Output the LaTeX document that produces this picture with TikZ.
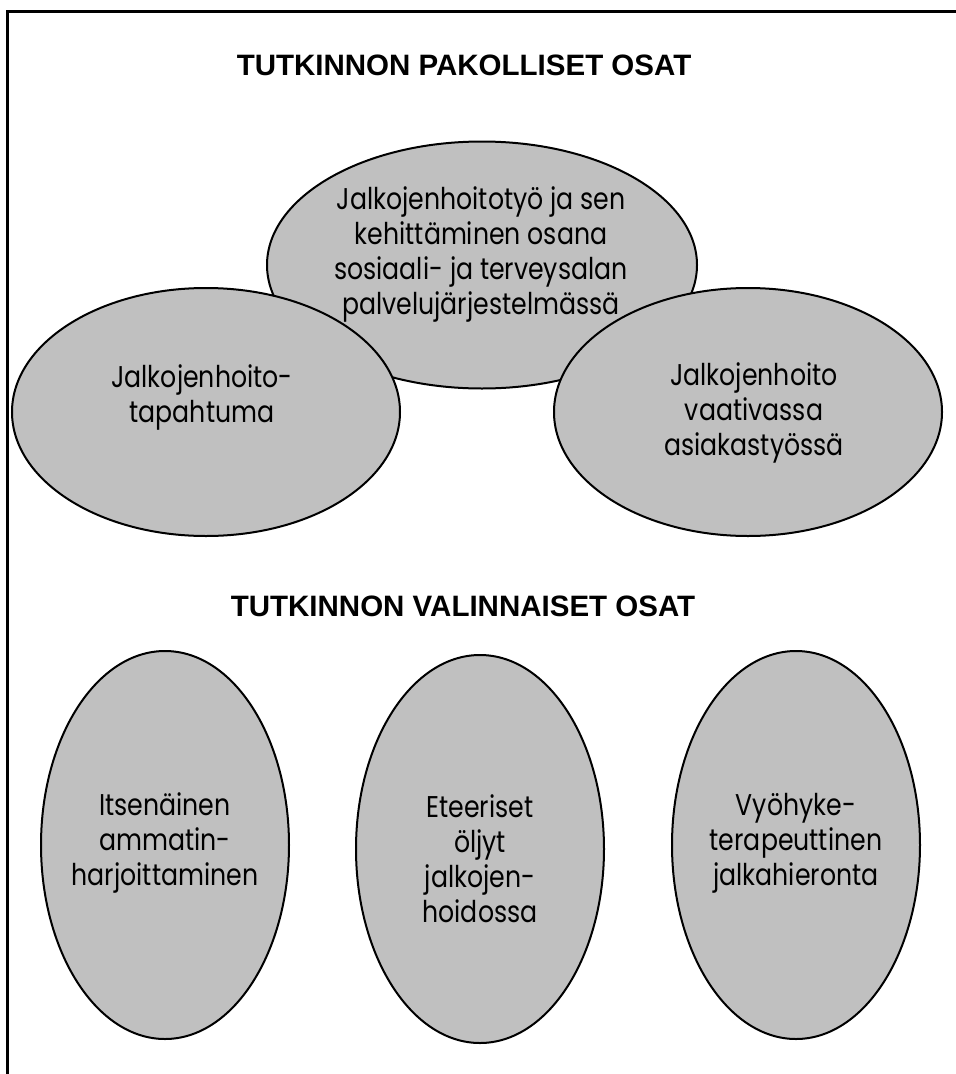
\documentclass[tikz,border=0pt]{standalone}
\usepackage{fontspec}
\setmainfont{Poppins}[FakeStretch=0.84]
\newfontfamily\headfont{Liberation Sans}
\usetikzlibrary{shapes.geometric}
\definecolor{ovalgray}{RGB}{192,192,192}
\begin{document}
\begin{tikzpicture}[x=1pt, y=-1pt,
    oval/.style={ellipse, draw, fill=ovalgray, line width=2pt, inner sep=0pt},
    wide/.style={oval, minimum width=388pt, minimum height=248pt},
    tall/.style={oval, minimum width=248pt, minimum height=388pt},
    ovaltext/.style={align=center, font=\fontsize{30}{35}\selectfont},
    headline/.style={anchor=base, font=\headfont\bfseries\fontsize{29.5}{35}\selectfont}]
        \useasboundingbox (0,0) rectangle (956,1074);
        \draw[line width=3pt] (7,11) rectangle (958,1077);
        % pakolliset
        \node[headline] (headA) at (464,75) {TUTKINNON PAKOLLISET OSAT};
        \node[oval, minimum width=430pt, minimum height=247pt] (core) at (482,265) {};
        \node[ovaltext] (coretext) at (481,254) {Jalkojenhoitotyö ja sen\\kehittäminen osana\\sosiaali- ja terveysalan\\palvelujärjestelmässä};
        \node[wide] (event) at (206,412) {};
        \node[ovaltext] (eventtext) at (202,397) {Jalkojenhoito-\\tapahtuma};
        \node[wide] (demand) at (748,412) {};
        \node[ovaltext] (demandtext) at (754,413) {Jalkojenhoito\\vaativassa\\asiakastyössä};
        % valinnaiset
        \node[headline] (headB) at (463,616) {TUTKINNON VALINNAISET OSAT};
        \node[tall] (own) at (165,845) {};
        \node[ovaltext] (owntext) at (165,843) {Itsenäinen\\ammatin-\\harjoittaminen};
        \node[tall] (oils) at (480,849) {};
        \node[ovaltext] (oilstext) at (480,859) {Eteeriset\\öljyt\\jalkojen-\\hoidossa};
        \node[tall] (zone) at (796,845) {};
        \node[ovaltext] (zonetext) at (796,843) {Vyöhyke-\\terapeuttinen\\jalkahieronta};
    \end{tikzpicture}
\end{document}
